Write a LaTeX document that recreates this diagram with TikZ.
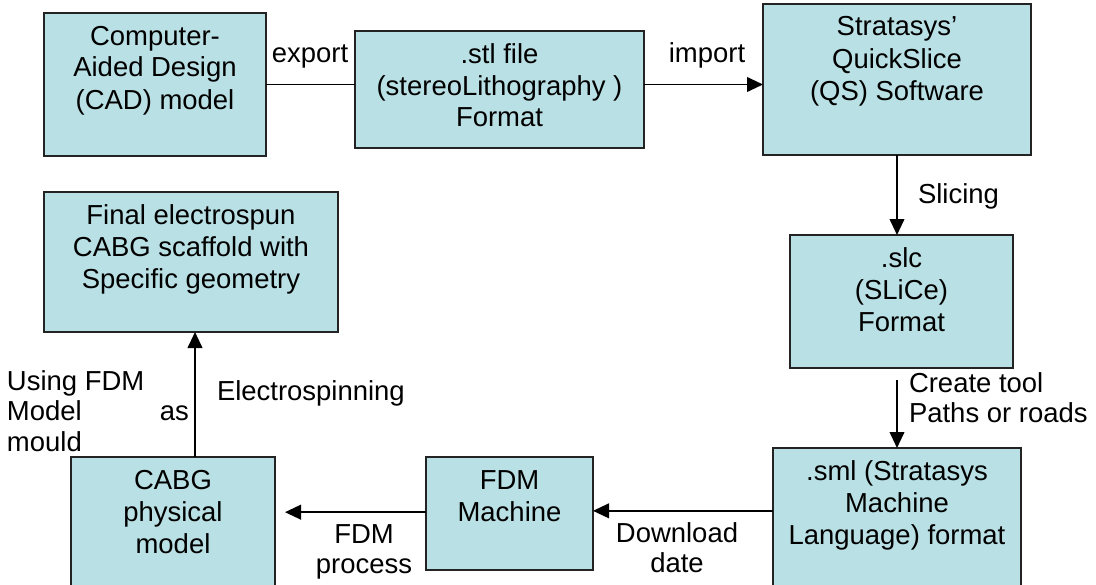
\documentclass[tikz,border=0pt]{standalone}
\usepackage{fontspec}
\setmainfont{Liberation Sans}
\usetikzlibrary{arrows.meta}
\definecolor{boxfill}{RGB}{185,224,228}
\definecolor{boxline}{RGB}{35,35,35}
% box content: fixed-size parbox, lines start at the top
\newcommand\boxtext[3]{\parbox[c][#2][t]{#1}{\centering\fontsize{20.6}{24}\selectfont\rule{0pt}{24pt}#3}}
\begin{document}
\begin{tikzpicture}[x=0.75pt,y=-0.75pt,
  every node/.style={font=\fontsize{20.6}{23}\selectfont, inner sep=0pt, outer sep=0pt},
  stepbox/.style={draw=boxline, fill=boxfill, line width=1.4pt},
  link/.style={line width=1.4pt},
  arr/.style={link, -{Triangle[length=12pt,width=11pt]}}]
\useasboundingbox (0,0) rectangle (1096,585);
\clip (0,0) rectangle (1096,585);

% process boxes
\node[stepbox] (cad) at (155,84.5)
  {\boxtext{166.5pt}{107.25pt}{Computer-\\Aided Design\\(CAD) model}};
\node[stepbox] (stl) at (499.5,89.5)
  {\boxtext{216.75pt}{87.75pt}{.stl file\\(stereoLithography )\\Format}};
\node[stepbox] (qs) at (897,79.5)
  {\boxtext{201pt}{113.25pt}{Stratasys'\\QuickSlice\\(QS) Software}};
\node[stepbox] (slc) at (901.5,301.5)
  {\boxtext{167.25pt}{99.75pt}{.slc\\(SLiCe)\\Format}};
\node[stepbox] (sml) at (897,524)
  {\boxtext{186pt}{114pt}{.sml (Stratasys\\Machine\\Language) format}};
\node[stepbox] (fdm) at (509.5,513.5)
  {\boxtext{125.25pt}{84.75pt}{FDM\\Machine}};
\node[stepbox] (cabg) at (173,528.5)
  {\boxtext{153pt}{107.25pt}{CABG\\physical\\model}};
\node[stepbox] (final) at (191,262)
  {\boxtext{220.5pt}{105pt}{Final electrospun\\CABG scaffold with\\Specific geometry}};

% connectors
\draw[link] (cad.east) -- (cad.east -| stl.west);
\draw[arr] (stl.east |- cad.east) -- (qs.west |- cad.east);
\draw[arr] (qs.south) -- (qs.south |- slc.north);
\draw[arr, shorten <=9pt] (sml.north |- slc.south) -- (sml.north);
\draw[arr] ([yshift=2pt]sml.west |- fdm.east) -- ([yshift=2pt]fdm.east);
\draw[arr, shorten >=7.5pt] ([yshift=1pt]fdm.west) -- ([yshift=1pt]fdm.west -| cabg.east);
\draw[arr] ([xshift=3pt]final.south |- cabg.north) -- ([xshift=3pt]final.south);

% connector labels
\node[anchor=base] (lexport) at (310,63) {export};
\node[anchor=base] (limport) at (707,63) {import};
\node[anchor=base west] (lslice) at (918,203) {Slicing};
\node[anchor=base west] (ltool) at (909,392)
  {\parbox[t]{150pt}{Create tool\\Paths or roads}};
\node[anchor=base] (ldown) at (677,542)
  {\parbox[t]{100pt}{\centering Download\\date}};
\node[anchor=base] (lproc) at (364,543)
  {\parbox[t]{90pt}{\centering FDM\\process}};
\node[anchor=base west] (lspin) at (217,400) {Electrospinning};
\node[anchor=base west] (lmould) at (7,390)
  {\parbox[t]{136.5pt}{Using FDM\\Model\hfill as\\mould}};
\end{tikzpicture}
\end{document}
